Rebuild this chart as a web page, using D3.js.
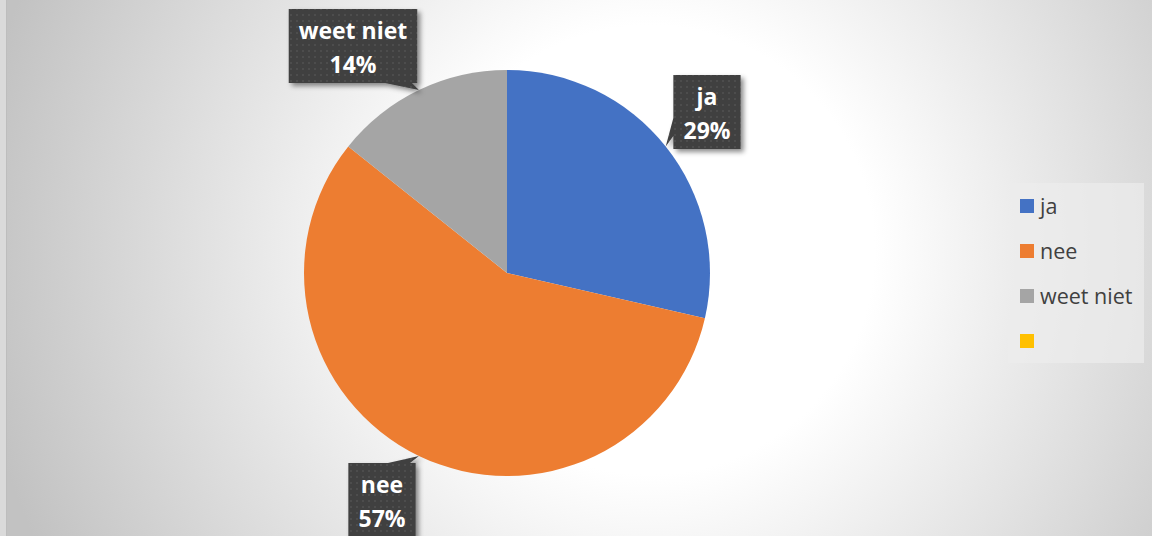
<!DOCTYPE html>
<html><head><meta charset="utf-8">
<script src="https://cdn.jsdelivr.net/npm/d3@7"></script>
<style>html,body{margin:0;padding:0;background:#fff;}svg{display:block;}</style>
</head><body>
<svg id="c" width="1152" height="536"></svg>
<script>
const categories = ["ja", "nee", "weet niet", ""];
const values = [2, 4, 1, 0];
const colors = ["#4472C4", "#ED7D31", "#A5A5A5", "#FFC000"];

const W = 1152, H = 536;
const svg = d3.select("#c");
const defs = svg.append("defs");

// background radial gradient
const rg = defs.append("radialGradient").attr("id", "bg").attr("gradientUnits", "userSpaceOnUse")
  .attr("cx", 650).attr("cy", 250).attr("r", 680);
rg.append("stop").attr("offset", 0).attr("stop-color", "#ffffff");
rg.append("stop").attr("offset", 0.33).attr("stop-color", "#ffffff");
rg.append("stop").attr("offset", 1).attr("stop-color", "#c2c2c2");
svg.append("rect").attr("width", W).attr("height", H).attr("fill", "url(#bg)");
svg.append("rect").attr("x", 0).attr("y", 0).attr("width", 6).attr("height", H).attr("fill", "#dadada");
svg.append("line").attr("x1", 6.5).attr("x2", 6.5).attr("y1", 0).attr("y2", H).attr("stroke", "#bdbdbd");

// dot pattern for labels
const pat = defs.append("pattern").attr("id", "dots").attr("patternUnits", "userSpaceOnUse")
  .attr("width", 6).attr("height", 6);
pat.append("rect").attr("width", 6).attr("height", 6).attr("fill", "#404040");
pat.append("rect").attr("x", 2).attr("y", 2).attr("width", 2).attr("height", 2).attr("fill", "#4e4e4e");
const f = defs.append("filter").attr("id", "sh").attr("x", "-20%").attr("y", "-20%").attr("width", "150%").attr("height", "150%");
f.append("feDropShadow").attr("dx", 3).attr("dy", 3).attr("stdDeviation", 2.5).attr("flood-color", "#000").attr("flood-opacity", 0.45);

const cx = 507, cy = 273, R = 203;
const total = d3.sum(values);
const pie = d3.pie().sort(null).value(d => d.v);
const data = pie(categories.map((c, i) => ({c, v: values[i], col: colors[i]})));
const arc = d3.arc().innerRadius(0).outerRadius(R);
const g = svg.append("g").attr("transform", `translate(${cx},${cy})`);
g.selectAll("path").data(data.filter(d => d.data.v > 0)).join("path")
  .attr("d", arc).attr("fill", d => d.data.col);

// callout layout (box center, edge facing the slice, pointer base along that edge)
const callout = {
  "ja": {x: 707, y: 112, edge: "left", b: [118, 136]},
  "nee": {x: 382, y: 500, edge: "top", b: [388, 410]},
  "weet niet": {x: 353, y: 46, edge: "bottom", b: [385, 412]}
};
const fmt = d3.format(".0%");
data.filter(d => d.data.v > 0).forEach(d => {
  const L = callout[d.data.c];
  const mid = (d.startAngle + d.endAngle) / 2;
  const tip = [cx + R * Math.sin(mid), cy - R * Math.cos(mid)];
  const lg = svg.append("g");
  const t = lg.append("text").attr("text-anchor", "middle").attr("fill", "#fff")
    .attr("font-family", "'Open Sans'").attr("font-weight", "bold").attr("font-size", 23);
  t.append("tspan").attr("x", L.x).attr("y", L.y - 7).text(d.data.c);
  t.append("tspan").attr("x", L.x).attr("y", L.y + 27).text(fmt(d.data.v / total));
  const bb = t.node().getBBox();
  const w = bb.width + 20, h = 74;
  const x0 = L.x - w / 2, x1 = L.x + w / 2, y0 = L.y - h / 2, y1 = L.y + h / 2;
  let p;
  if (L.edge === "left") p = `M${x0},${y0}H${x1}V${y1}H${x0}V${L.b[1]}L${tip[0]},${tip[1]}L${x0},${L.b[0]}Z`;
  else if (L.edge === "bottom") p = `M${x0},${y0}H${x1}V${y1}H${L.b[1]}L${tip[0]},${tip[1]}L${L.b[0]},${y1}H${x0}Z`;
  else p = `M${x0},${y0}H${L.b[0]}L${tip[0]},${tip[1]}L${L.b[1]},${y0}H${x1}V${y1}H${x0}Z`;
  lg.insert("path", "text").attr("d", p).attr("fill", "url(#dots)").attr("filter", "url(#sh)");
});

// legend
const lgd = svg.append("g");
lgd.append("rect").attr("x", 1008).attr("y", 183).attr("width", 136).attr("height", 180)
  .attr("fill", "#ececec").attr("fill-opacity", 0.7);
const ly = d3.scalePoint().domain(d3.range(categories.length)).range([206, 341]);
categories.forEach((c, i) => {
  lgd.append("rect").attr("x", 1020).attr("y", ly(i) - 7).attr("width", 14).attr("height", 14).attr("fill", colors[i]);
  lgd.append("text").attr("x", 1040).attr("y", ly(i) + 7.5).attr("fill", "#404040")
    .attr("font-family", "'Open Sans'").attr("font-size", 21.5).text(c);
});
</script>
</body></html>
